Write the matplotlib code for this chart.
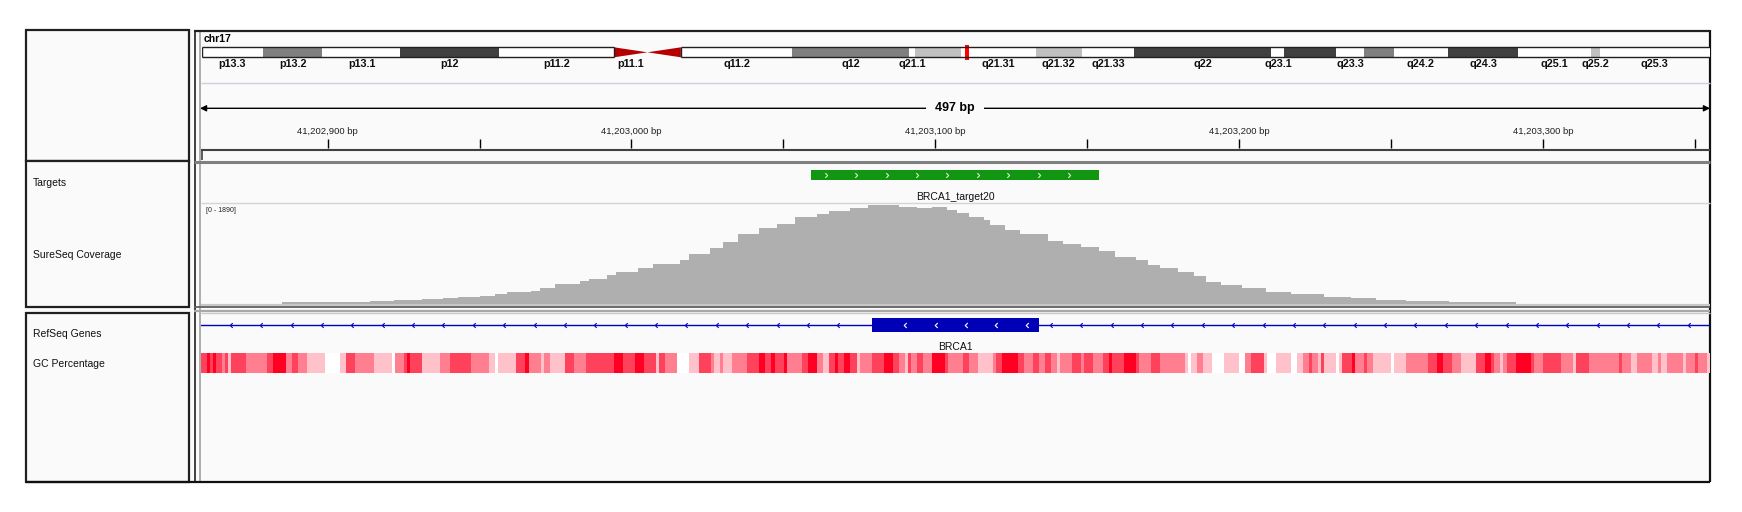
import numpy as np
import matplotlib
matplotlib.use("Agg")
import matplotlib.pyplot as plt
from matplotlib.patches import Rectangle, Polygon
from matplotlib.colors import LinearSegmentedColormap, Normalize
from matplotlib.path import Path

plt.rcParams['font.family'] = ['Liberation Sans', 'DejaVu Sans']

W, H = 1742, 512

# chromosome ideogram (hg19 chr17, Mb)
chrom = "chr17"
chrom_len = 81.195
band_names = ["p13.3", "p13.2", "p13.1", "p12", "p11.2", "p11.1", "q11.1", "q11.2",
              "q12", "q21.1", "q21.2", "q21.31", "q21.32", "q21.33", "q22", "q23.1",
              "q23.2", "q23.3", "q24.1", "q24.2", "q24.3", "q25.1", "q25.2", "q25.3"]
band_starts = [0.0, 3.3, 6.5, 10.7, 16.0, 22.2, 24.0, 25.8, 31.8, 38.1, 38.4, 40.9,
               44.9, 47.4, 50.2, 57.6, 58.3, 61.1, 62.6, 64.2, 67.1, 70.9, 74.8, 75.3]
band_stains = ["gneg", "gpos50", "gneg", "gpos75", "gneg", "acen", "acen", "gneg",
               "gpos50", "gneg", "gpos25", "gneg", "gpos25", "gneg", "gpos75", "gneg",
               "gpos75", "gneg", "gpos50", "gneg", "gpos75", "gneg", "gpos25", "gneg"]
hidden_labels = ["q11.1", "q21.2", "q23.2", "q24.1"]

# view window
view_start = 41202858
view_end = 41203355

# target
target_name = "BRCA1_target20"
target_start = 41203059
target_end = 41203154

# gene
gene_name = "BRCA1"
exon_start = 41203079
exon_end = 41203134

# coverage steps (offset from view_start where depth changes, depth)
cov_pos = [0, 27, 56, 64, 73, 80, 85, 92, 97, 101, 109, 112, 117, 125, 128, 134, 137, 144,
           149, 158, 161, 168, 172, 177, 184, 190, 196, 203, 207, 214, 220, 230, 236, 241,
           246, 249, 253, 258, 260, 265, 270, 279, 284, 290, 296, 301, 308, 312, 316, 322,
           327, 331, 336, 343, 351, 359, 370, 379, 387, 397, 411, 433, 497]
cov_val = [0, 26, 39, 58, 77, 96, 122, 141, 174, 212, 244, 289, 373, 431, 469, 547, 598, 662,
           752, 829, 932, 1042, 1157, 1318, 1434, 1511, 1627, 1691, 1755, 1807, 1865, 1833, 1807, 1820,
           1768, 1704, 1640, 1575, 1479, 1395, 1318, 1190, 1125, 1061, 984, 881, 817, 727, 662, 598,
           514, 405, 354, 289, 225, 174, 129, 96, 71, 45, 26, 0]
cov_max = 1890

# GC percentage runs (offset from view_start, percent)
gc_pos = [0, 2, 3, 4, 5, 7, 8, 9, 10, 15, 22, 24, 28, 30, 32, 35, 41, 46, 48, 51,
          57, 63, 64, 67, 68, 69, 73, 79, 82, 89, 95, 97, 98, 104, 107, 108, 112, 113, 115, 120,
          123, 127, 136, 139, 143, 146, 150, 151, 153, 157, 161, 164, 168, 169, 171, 172, 175, 180, 184, 186,
          188, 189, 192, 193, 198, 200, 203, 205, 207, 209, 210, 212, 214, 216, 217, 221, 225, 228, 230, 232,
          233, 234, 236, 238, 241, 245, 246, 251, 253, 256, 261, 262, 264, 269, 271, 274, 276, 278, 280, 282,
          283, 287, 290, 291, 294, 297, 299, 300, 304, 308, 309, 313, 316, 324, 325, 326, 328, 330, 333, 337,
          342, 344, 346, 350, 351, 354, 359, 361, 363, 365, 366, 368, 369, 370, 374, 375, 376, 379, 380, 383,
          384, 386, 392, 393, 397, 404, 407, 409, 412, 415, 420, 423, 425, 426, 428, 429, 430, 433, 438, 439,
          442, 448, 452, 453, 457, 467, 468, 471, 473, 478, 480, 481, 483, 488, 489, 492, 493, 496, 497]
gc_pct = [67, 80, 67, 80, 67, 55, 67, 42, 67, 55, 67, 80, 55, 67, 55, 42, 30, 42, 67, 55,
          42, 30, 55, 67, 80, 67, 42, 55, 67, 55, 42, 30, 42, 67, 80, 55, 42, 55, 42, 67,
          55, 67, 80, 67, 80, 67, 42, 67, 55, 30, 42, 67, 55, 42, 55, 42, 55, 67, 80, 67,
          80, 67, 80, 55, 67, 80, 55, 42, 67, 80, 67, 80, 67, 42, 55, 67, 80, 67, 55, 42,
          67, 55, 67, 55, 80, 67, 55, 67, 55, 42, 55, 67, 80, 67, 55, 67, 55, 67, 55, 42,
          55, 67, 55, 67, 55, 67, 80, 67, 80, 67, 55, 67, 55, 42, 30, 42, 55, 42, 30, 42,
          30, 55, 67, 42, 30, 42, 30, 42, 55, 67, 55, 42, 67, 42, 30, 42, 67, 80, 55, 67,
          55, 42, 30, 42, 55, 67, 80, 67, 55, 42, 67, 80, 67, 55, 42, 55, 67, 80, 67, 55,
          67, 55, 42, 67, 55, 67, 55, 42, 55, 42, 55, 42, 55, 42, 55, 67, 55, 42]

track_names = ["Targets", "SureSeq Coverage", "RefSeq Genes", "GC Percentage"]

# ---------------------------------------------------------------
bg = '#fafafa'
stain_colors = {"gneg": "#ffffff", "gpos25": "#c0c0c0", "gpos50": "#808080",
                "gpos75": "#404040", "acen": "#b40000"}

fig = plt.figure(figsize=(W / 100, H / 100), dpi=100)
fig.patch.set_facecolor('white')


def px_axes(x0, y0, x1, y1, z=2):
    ax = fig.add_axes([x0 / W, 1 - y1 / H, (x1 - x0) / W, (y1 - y0) / H], zorder=z)
    ax.set_axis_off()
    ax.patch.set_alpha(0)
    return ax


# frame in pixel coordinates
frame = px_axes(0, 0, W, H, z=0)
frame.set_xlim(0, W)
frame.set_ylim(H, 0)
frame.add_patch(Rectangle((26, 30), 1684, 452, facecolor=bg, edgecolor='none'))
# name panels
for y0, y1 in [(30, 161), (161, 306.5), (312.5, 482)]:
    frame.add_patch(Rectangle((26, y0), 162.5, y1 - y0, facecolor=bg, edgecolor='#202020', lw=1.6))
frame.vlines(194.5, 30, 482, color='#303030', lw=1.3)
frame.vlines(200.3, 30, 482, color='#a8a8a8', lw=1.3)
frame.vlines(1710, 30, 482, color='#101010', lw=1.6)
frame.hlines(30.5, 194, 1710, color='#202020', lw=1.6)
frame.hlines(481.5, 26, 1710, color='#101010', lw=1.6)
frame.hlines(82.7, 201, 1710, color='#d0d0dc', lw=1.0)
frame.hlines(150, 201, 1710, color='#404040', lw=1.5)
frame.vlines(201.5, 150, 160, color='#404040', lw=1.2)
frame.hlines(161.5, 194, 1710, color='#808080', lw=2.2)
frame.hlines(203.2, 201, 1710, color='#d4d4dc', lw=1.0)
frame.hlines(304.8, 201, 1710, color='#c8c8c8', lw=1.6)
frame.hlines(307.2, 194, 1710, color='#606060', lw=1.3)
frame.hlines(310.8, 194, 1710, color='#a8a8a8', lw=1.6)
frame.hlines(312.8, 201, 1710, color='#c8c8c8', lw=1.0)

for name, y in zip(track_names, [183, 255.5, 333.7, 364]):
    frame.text(32.5, y, name, fontsize=7.5, va='center', ha='left', color='#101010')
frame.text(206, 211, f"[0 - {cov_max}]", fontsize=5, va='center', ha='left', color='#202020')
frame.text(204, 39.5, chrom, fontsize=7.5, fontweight='bold', va='center', ha='left')

# ideogram
ideo = px_axes(201.8, 40, 1709.5, 72)
ideo.set_xlim(0, chrom_len)
ideo.set_ylim(72, 40)
band_ends = band_starts[1:] + [chrom_len]
top, bot = 47.3, 57.3
mid = (top + bot) / 2
for name, s, e, st in zip(band_names, band_starts, band_ends, band_stains):
    if st == "acen":
        if name.startswith("p"):
            tri = [(s, top), (s, bot), (e, mid)]
        else:
            tri = [(s, mid), (e, top), (e, bot)]
        ideo.add_patch(Polygon(tri, closed=True, facecolor=stain_colors[st], edgecolor='none'))
    else:
        ideo.bar(s, bot - top, width=e - s, bottom=top, align='edge',
                 color=stain_colors[st], linewidth=0)
    if name not in hidden_labels:
        ideo.text((s + e) / 2, 63.8, name, fontsize=7.8, fontweight='bold',
                  ha='center', va='center', color='#101010')
acen_s = band_starts[band_stains.index("acen")]
acen_e = band_ends[len(band_stains) - 1 - band_stains[::-1].index("acen")]
for y in (top, bot):
    ideo.hlines(y, 0, acen_s, color='#202020', lw=1.0)
    ideo.hlines(y, acen_e, chrom_len, color='#202020', lw=1.0)
ideo.vlines([0, acen_s, acen_e], top, bot, color='#202020', lw=1.0)
view_mb = (view_start + view_end) / 2 / 1e6
ideo.add_patch(Rectangle((view_mb - 0.11, 45), 0.22, 15, facecolor='#ff0000', edgecolor='none'))

# ruler
ruler = px_axes(200, 85, 1710, 150)
ruler.set_xlim(view_start, view_end)
ruler.set_ylim(150, 85)
ruler.annotate('', xy=(view_end, 108.3), xytext=(view_start, 108.3),
               arrowprops=dict(arrowstyle='<|-|>', color='black', lw=1.0,
                               mutation_scale=9, shrinkA=0, shrinkB=0))
ruler.text((view_start + view_end) / 2, 108.3, f"{view_end - view_start} bp", fontsize=9,
           fontweight='bold', ha='center', va='center',
           bbox=dict(boxstyle='square,pad=0.75', facecolor=bg, edgecolor='none'))
ticks = np.arange(int(np.ceil(view_start / 50) * 50), view_end, 50)
ruler.vlines(ticks, 139, 148, color='black', lw=1.0)
for t in ticks:
    if t % 100 == 0:
        ruler.text(t, 131.5, f"{t:,} bp", fontsize=6.8, ha='center', va='center', color='#202020')

# targets
chev_r = Path([(-0.5, 1), (0.5, 0), (-0.5, -1)], [Path.MOVETO, Path.LINETO, Path.LINETO])
chev_l = Path([(0.5, 1), (-0.5, 0), (0.5, -1)], [Path.MOVETO, Path.LINETO, Path.LINETO])
tgt = px_axes(200, 162, 1710, 203)
tgt.set_xlim(view_start, view_end)
tgt.set_ylim(203, 162)
tgt.bar(target_start, 10, width=target_end - target_start, bottom=170, align='edge',
        color='#109610', linewidth=0)
tpos = np.arange(target_start + 5, target_end - 5, 10)
tgt.plot(tpos, np.full(len(tpos), 175), linestyle='none', marker=chev_r, markersize=3.4,
         markerfacecolor='none', markeredgecolor='#d8f2d8', markeredgewidth=0.8)
tgt.text((target_start + target_end) / 2, 197, target_name, fontsize=7.5, ha='center',
         va='center', color='#101010', clip_on=False)

# coverage
cov = px_axes(200, 203.5, 1710, 303.5)
cov.set_xlim(view_start, view_end)
cov.set_ylim(0, cov_max)
cov_left = view_start + np.array(cov_pos[:-1])
cov.bar(cov_left, cov_val, width=np.diff(cov_pos), align='edge', color='#afafaf', linewidth=0)

# genes + gc
feat = px_axes(200.5, 312, 1710, 482)
feat.set_xlim(view_start, view_end)
feat.set_ylim(482, 312)
feat.hlines(325.2, view_start - 100, view_end + 100, color='#0000c0', lw=1.0)
feat.bar(exon_start, 14, width=exon_end - exon_start, bottom=318, align='edge',
         color='#0000b4', linewidth=0)
ipos = np.arange(view_start + 10, view_end, 10)
ipos = ipos[(ipos < exon_start - 2) | (ipos > exon_end + 2)]
feat.plot(ipos, np.full(len(ipos), 325.2), linestyle='none', marker=chev_l, markersize=3.4,
          markerfacecolor='none', markeredgecolor='#0000d0', markeredgewidth=0.8)
epos = np.arange(exon_start + 11, exon_end, 10)
feat.plot(epos, np.full(len(epos), 325), linestyle='none', marker=chev_l, markersize=3.6,
          markerfacecolor='none', markeredgecolor='white', markeredgewidth=0.8)
feat.text((view_start + view_end) / 2, 347, gene_name, fontsize=7.5, ha='center',
          va='center', color='#101010')

gc_cmap = LinearSegmentedColormap.from_list('gc', ['#ffffff', '#ff0023'])
gc_norm = Normalize(30, 80)
gc_left = view_start + np.array(gc_pos[:-1])
feat.bar(gc_left, 20, width=np.diff(gc_pos), bottom=353, align='edge',
         color=gc_cmap(gc_norm(np.array(gc_pct))), linewidth=0)

fig.savefig("out.png", dpi=100, facecolor='white')
